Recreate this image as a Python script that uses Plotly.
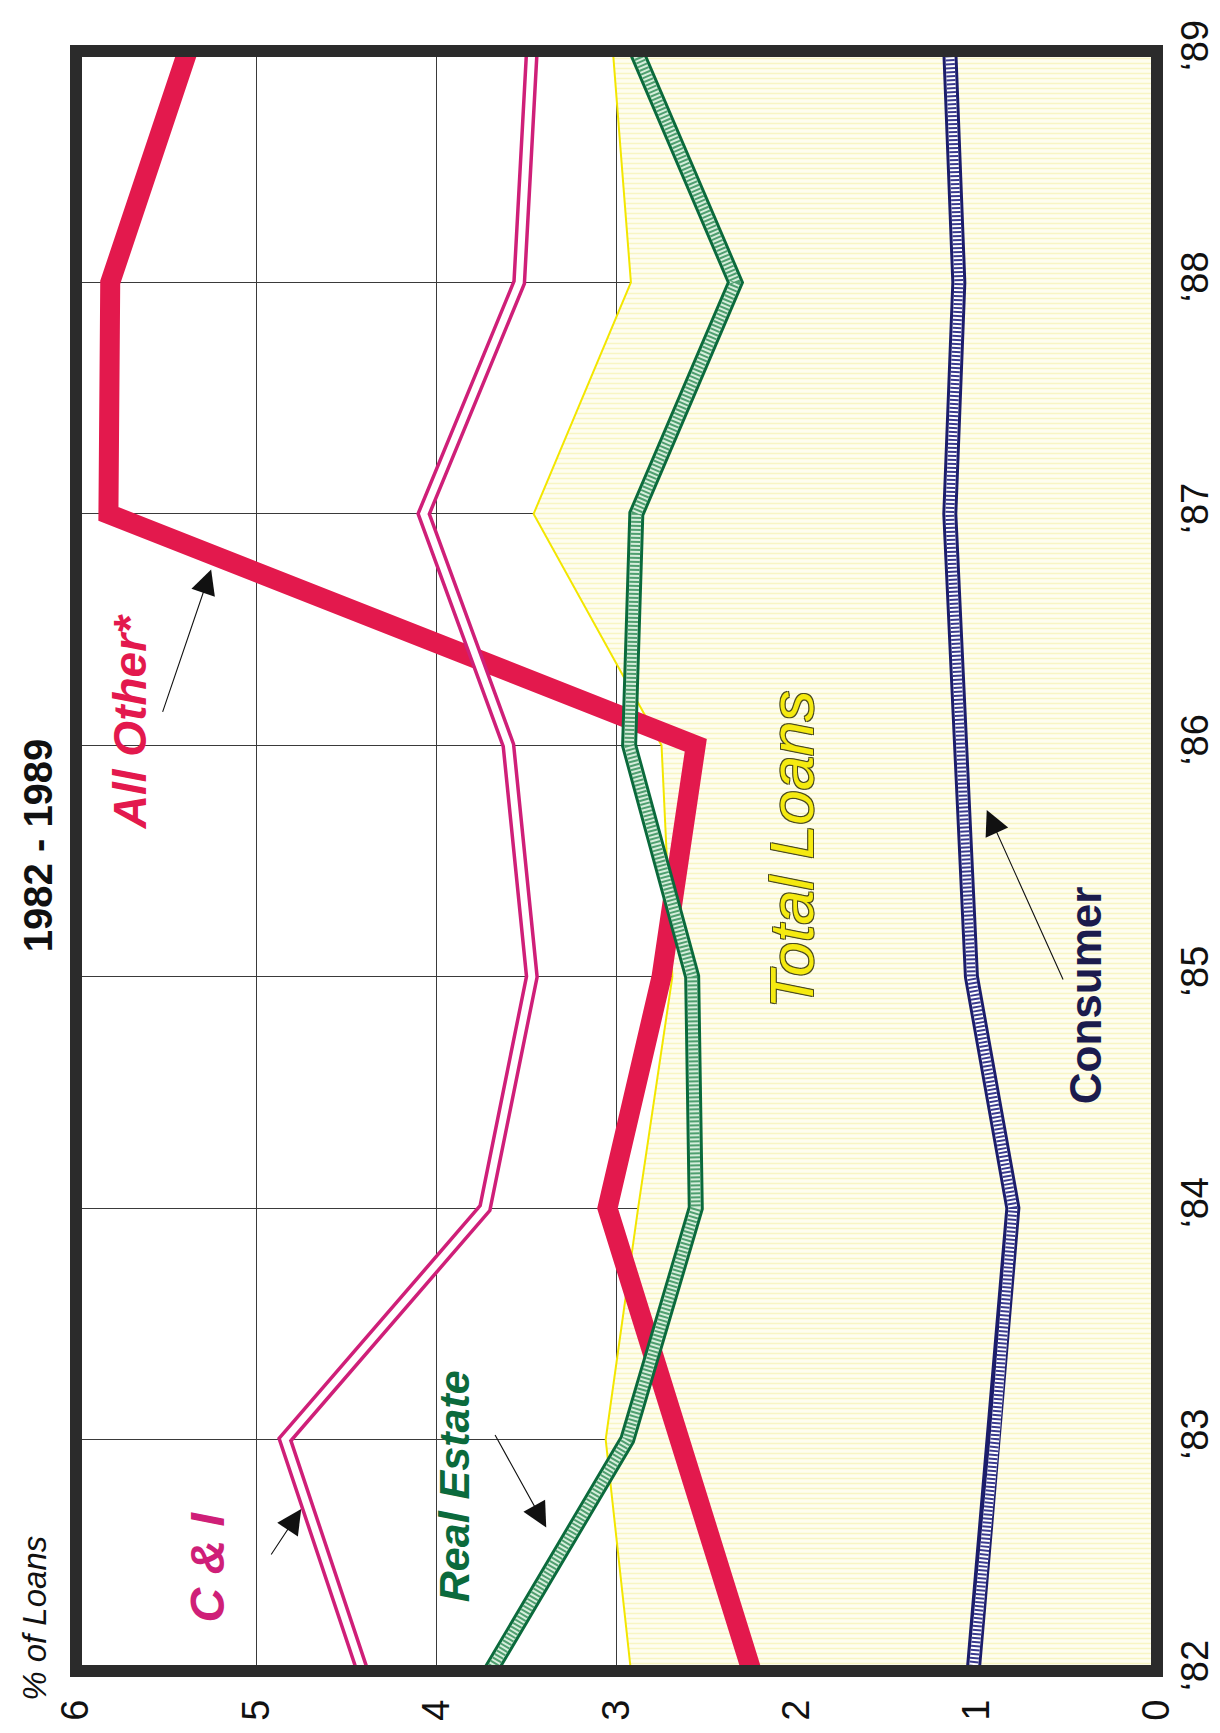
import plotly.graph_objects as go

years = [1982, 1983, 1984, 1985, 1986, 1987, 1988, 1989]
year_labels = ["‘82", "‘83", "‘84", "‘85", "‘86", "‘87", "‘88", "‘89"]
pct_ticks = [0, 1, 2, 3, 4, 5, 6]
pct_labels = ["0", "1", "2", "3", "4", "5", "6"]

c_and_i = [4.41, 4.84, 3.73, 3.47, 3.60, 4.07, 3.54, 3.47]
all_other = [2.25, 2.66, 3.05, 2.75, 2.56, 5.82, 5.81, 5.38]
real_estate = [3.70, 2.94, 2.56, 2.58, 2.93, 2.89, 2.34, 2.89]
total_loans = [2.92, 3.06, 2.88, 2.69, 2.75, 3.46, 2.92, 3.02]
consumer = [1.02, 0.90, 0.80, 1.03, 1.09, 1.15, 1.10, 1.15]

FONT = "Liberation Sans, Arial, Helvetica, sans-serif"

fig = go.Figure()

# Total Loans: shaded area from 0 up to the line
fig.add_trace(go.Scatter(
    x=total_loans, y=years, mode="lines",
    line=dict(color="#f3e600", width=2),
    fill="tozerox", fillcolor="#fdfbe6",
    fillpattern=dict(shape="-", fgcolor="#f2ee96", bgcolor="#fefdf0",
                     size=5, solidity=0.3),
    hoverinfo="skip", showlegend=False))

# All Other: thick red band
fig.add_trace(go.Scatter(
    x=all_other, y=years, mode="lines",
    line=dict(color="#e3194d", width=20),
    hoverinfo="skip", showlegend=False))

# C & I: double magenta line
fig.add_trace(go.Scatter(
    x=c_and_i, y=years, mode="lines",
    line=dict(color="#cf1f78", width=14),
    hoverinfo="skip", showlegend=False))
fig.add_trace(go.Scatter(
    x=c_and_i, y=years, mode="lines",
    line=dict(color="#ffffff", width=7),
    hoverinfo="skip", showlegend=False))

# Real Estate: green outline with cross-hatched centre
fig.add_trace(go.Scatter(
    x=real_estate, y=years, mode="lines",
    line=dict(color="#0b6a3c", width=16),
    hoverinfo="skip", showlegend=False))
fig.add_trace(go.Scatter(
    x=real_estate, y=years, mode="lines",
    line=dict(color="#d6eedc", width=10),
    hoverinfo="skip", showlegend=False))
fig.add_trace(go.Scatter(
    x=real_estate, y=years, mode="lines",
    line=dict(color="#4f9f6f", width=10, dash="2px,2px"),
    hoverinfo="skip", showlegend=False))

# Consumer: navy outline with hatched centre
fig.add_trace(go.Scatter(
    x=consumer, y=years, mode="lines",
    line=dict(color="#1c1d6b", width=15),
    hoverinfo="skip", showlegend=False))
fig.add_trace(go.Scatter(
    x=consumer, y=years, mode="lines",
    line=dict(color="#ffffff", width=9),
    hoverinfo="skip", showlegend=False))
fig.add_trace(go.Scatter(
    x=consumer, y=years, mode="lines",
    line=dict(color="#3b3b8f", width=9, dash="2px,2px"),
    hoverinfo="skip", showlegend=False))

annotations = []

# Series labels (rotated like the rest of the chart)
def label(text, x, y, color, size, italic=True, bold=True, shadow=None):
    f = dict(family=FONT, size=size, color=color,
             style="italic" if italic else "normal",
             weight="bold" if bold else "normal")
    if shadow:
        f["shadow"] = shadow
    annotations.append(dict(x=x, y=y, xref="x", yref="y", text=text,
                            showarrow=False, textangle=-90, font=f,
                            xanchor="center", yanchor="middle"))

label("C &amp; I", 5.27, 1982.45, "#cf1f78", 48)
label("Real Estate", 3.90, 1982.80, "#0b6a3c", 43)
label("All Other*", 5.70, 1986.10, "#e3194d", 46)
label("Total Loans", 2.03, 1985.55, "#f5ea10", 62, bold=False,
      shadow="-1px -1px 0 #4a4a20, 1px -1px 0 #4a4a20, -1px 1px 0 #4a4a20, 1px 1px 0 #4a4a20")
label("Consumer", 0.40, 1984.92, "#1b1b4d", 44, italic=False)

# Pointer arrows
def arrow(x, y, ax, ay):
    annotations.append(dict(x=x, y=y, xref="x", yref="y", ax=ax, ay=ay,
                            text="", showarrow=True, arrowhead=2,
                            arrowsize=4.5, arrowwidth=1.1, arrowcolor="#111111",
                            standoff=0))

arrow(4.75, 1982.70, -31, 47)
arrow(3.39, 1982.62, -52, -94)
arrow(5.25, 1986.76, -49, 144)
arrow(0.945, 1985.72, 77, 171)

# Title and axis caption
annotations.append(dict(x=-0.0345, y=0.5096, xref="paper", yref="paper",
                        text="1982 - 1989", showarrow=False, textangle=-90,
                        font=dict(family=FONT, size=40, color="#111111", weight="bold"),
                        xanchor="center", yanchor="middle"))
annotations.append(dict(x=-0.039, y=0.0327, xref="paper", yref="paper",
                        text="% of Loans", showarrow=False, textangle=-90,
                        font=dict(family=FONT, size=33, color="#111111", style="italic"),
                        xanchor="center", yanchor="middle"))

fig.update_layout(
    width=1220, height=1733,
    margin=dict(l=68, r=59, t=40, b=70),
    paper_bgcolor="white", plot_bgcolor="white",
    showlegend=False,
    annotations=annotations,
    xaxis=dict(range=[6, 0], tickvals=pct_ticks, ticktext=pct_labels,
               tickangle=-90, showgrid=True, gridcolor="#3a3a3a", gridwidth=1,
               zeroline=False, showline=False, ticks="",
               ticklabelstandoff=20,
               tickfont=dict(family=FONT, size=38, color="#111111")),
    yaxis=dict(range=[1982, 1989], tickvals=years, ticktext=year_labels,
               side="right", tickangle=-90, showgrid=True, gridcolor="#3a3a3a",
               gridwidth=1, zeroline=False, showline=False, ticks="",
               ticklabelstandoff=12,
               tickfont=dict(family=FONT, size=38, color="#111111")),
    shapes=[dict(type="rect", xref="paper", yref="paper", x0=0, x1=1, y0=0, y1=1,
                 line=dict(color="#2b2b2b", width=12), layer="above")],
)

fig.write_html("out.html")
